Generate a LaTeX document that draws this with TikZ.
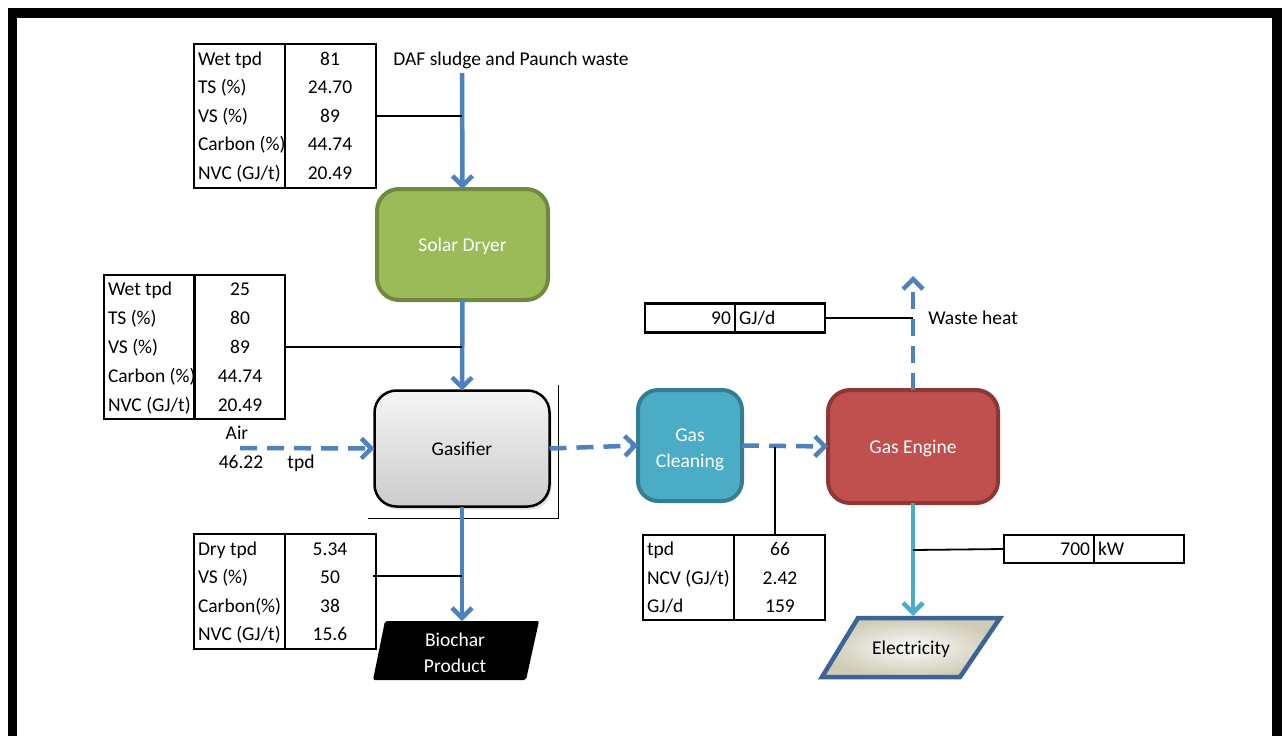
\documentclass[tikz,border=0pt]{standalone}
\usepackage{fontspec}
\setmainfont{Carlito}
\usetikzlibrary{arrows.meta,shadows}
\definecolor{flowblue}{HTML}{4F81BD}
\definecolor{dryfill}{HTML}{9BBB59}
\definecolor{drydraw}{HTML}{71893F}
\definecolor{cleanfill}{HTML}{4BACC6}
\definecolor{cleandraw}{HTML}{357D91}
\definecolor{engfill}{HTML}{C0504D}
\definecolor{engdraw}{HTML}{8C3836}
\definecolor{elecdraw}{HTML}{3C6496}
\definecolor{elecfill}{HTML}{CFCBB6}
\begin{document}
\begin{tikzpicture}[x=1pt,y=-1pt,
  every node/.style={font=\fontsize{19.5}{23}\selectfont, inner sep=0pt, outer sep=0pt,
                     text height=13pt, text depth=0pt},
  multi/.style={text height=, text depth=, align=center},
  proc/.style={rectangle, rounded corners=22pt, line width=4pt, text=white, align=center},
  tbl/.style={draw, line width=2.5pt, rectangle},
  lbl/.style={anchor=west},
  flow/.style={draw=flowblue, line width=4.5pt, -{Straight Barb[length=10pt,width=20pt]}},
  dflow/.style={flow, dash pattern=on 17pt off 10pt},
  conn/.style={draw=black, line width=1.8pt}]
\useasboundingbox (0,0) rectangle (1282,736);
\clip (0,0) rectangle (1282,736);
\fill[white] (0,0) rectangle (1282,736);
% frame
\draw[line width=9.5pt] (12.5,13) rectangle (1277,741);

% ---------- process boxes ----------
\node[proc, fill=dryfill, draw=drydraw, minimum width=171pt, minimum height=111pt] (dryer) at (462.5,244.5) {Solar Dryer};
\node[proc, draw=black, line width=2.5pt, top color=gray!8, bottom color=gray!40, text=black,
      minimum width=175pt, minimum height=116pt,
      drop shadow={opacity=0.25, shadow xshift=2pt, shadow yshift=-3pt}] (gasifier) at (462,448.5) {Gasifier};
\node[proc, fill=cleanfill, draw=cleandraw, minimum width=104pt, minimum height=111pt, rounded corners=20pt] (clean) at (690,445.5) {};
\node[multi, text=white] (cleantext) at (690,449.5) {Gas\\[3pt]Cleaning};
\node[proc, fill=engfill, draw=engdraw, minimum width=170pt, minimum height=113pt] (engine) at (913,446.5) {Gas Engine};

% artefact lines around gasifier
\draw[line width=1pt] (558,385) -- (558,518) -- (368,518);

% biochar parallelogram
\fill[black, rounded corners=2pt] (385,621) -- (539,621) -- (526,680) -- (373,680) -- cycle;
\coordinate (biotop) at (462,621);
\node[multi, text=white] (biochar) at (455,653) {Biochar\\[3pt]Product};

% electricity parallelogram
\shade[inner color=white!92!elecfill, outer color=elecfill] (858,618) -- (1000,618) -- (960,677) -- (822,677) -- cycle;
\draw[elecdraw, line width=4.5pt, line join=miter] (858,618) -- (1000,618) -- (960,677) -- (822,677) -- cycle;
\coordinate (electop) at (913,616);
\node (elec) at (911,648) {Electricity};

% ---------- inputs / labels ----------
\node (daf) at (511,59) {DAF sludge and Paunch waste};
\coordinate (dafstart) at (462,73);
\node (wasteheat) at (973,318) {Waste heat};
\coordinate (heatend) at (913,276);
\node (air) at (237,433) {Air};
\node (airval) at (241,462) {46.22};
\node (airunit) at (301,462) {tpd};
\coordinate (airstart) at (240,448);

% ---------- flows ----------
\draw[flow] (dafstart) -- (dryer.north);
\draw[flow] (dryer.south) -- (gasifier.north);
\draw[dflow] (airstart) -- (gasifier.west);
\draw[dflow] (gasifier.east) -- (clean.west);
\draw[dflow] (clean.east) -- (engine.west);
\draw[dflow] (engine.north) -- (heatend);
\draw[flow] (gasifier.south) -- (biotop);
\draw[flow, draw=cleanfill] (engine.south) -- (electop);

% ---------- table 1 ----------
\node[tbl, minimum width=182pt, minimum height=144pt] (t1) at (285,116) {};
\draw[line width=2.5pt] (t1.north) -- (t1.south);
\begin{scope}
\clip (194,44) rectangle (285,188);
\node[lbl] (t1a) at (198,59) {Wet tpd};
\node[lbl] (t1b) at (198,87) {TS (\%)};
\node[lbl] (t1c) at (198,116) {VS (\%)};
\node[lbl] (t1d) at (198,144) {Carbon (\%)};
\node[lbl] (t1e) at (198,173) {NVC (GJ/t)};
\end{scope}
\node (t1av) at (330,59) {81};
\node (t1bv) at (330,87) {24.70};
\node (t1cv) at (330,116) {89};
\node (t1dv) at (330,144) {44.74};
\node (t1ev) at (330,173) {20.49};
\coordinate (j1) at (462,116);
\draw[conn] (t1.east) -- (j1);

% ---------- table 2 ----------
\node[tbl, minimum width=181pt, minimum height=144pt] (t2) at (194.5,347) {};
\draw[line width=2.5pt] (t2.north) -- (t2.south);
\begin{scope}
\clip (104,275) rectangle (194.5,419);
\node[lbl] (t2a) at (108,289) {Wet tpd};
\node[lbl] (t2b) at (108,318) {TS (\%)};
\node[lbl] (t2c) at (108,347) {VS (\%)};
\node[lbl] (t2d) at (108,376) {Carbon (\%)};
\node[lbl] (t2e) at (108,405) {NVC (GJ/t)};
\end{scope}
\node (t2av) at (240,289) {25};
\node (t2bv) at (240,318) {80};
\node (t2cv) at (240,347) {89};
\node (t2dv) at (240,376) {44.74};
\node (t2ev) at (240,405) {20.49};
\coordinate (j2) at (462,347);
\draw[conn] (t2.east) -- (j2);

% ---------- table 4 (biochar) ----------
\node[tbl, minimum width=182pt, minimum height=115pt] (t4) at (285,591.5) {};
\draw[line width=2.5pt] (t4.north) -- (t4.south);
\node[lbl] (t4a) at (198,549) {Dry tpd};
\node[lbl] (t4b) at (198,577) {VS (\%)};
\node[lbl] (t4c) at (198,606) {Carbon(\%)};
\node[lbl] (t4d) at (198,634) {NVC (GJ/t)};
\node (t4av) at (330,549) {5.34};
\node (t4bv) at (330,577) {50};
\node (t4cv) at (330,606) {38};
\node (t4dv) at (330,634) {15.6};
\coordinate (j4) at (462,576);
\draw[conn] (373,576) -- (j4);

% ---------- table 3 (gas) ----------
\node[tbl, minimum width=182pt, minimum height=85pt] (t3) at (734,577.5) {};
\draw[line width=2.5pt] (t3.north) -- (t3.south);
\node[lbl] (t3a) at (647,549) {tpd};
\node[lbl] (t3b) at (647,578) {NCV (GJ/t)};
\node[lbl] (t3c) at (647,606) {GJ/d};
\node (t3av) at (780,549) {66};
\node (t3bv) at (780,578) {2.42};
\node (t3cv) at (780,606) {159};
\coordinate (j3) at (775,446.5);
\draw[conn] (j3) -- (j3 |- t3.north);

% ---------- waste heat box ----------
\node[tbl, minimum width=180pt, minimum height=29pt] (heatbox) at (735,318) {};
\draw[line width=2.5pt] (heatbox.north) -- (heatbox.south);
\node[anchor=east] (heatval) at (731,318) {90};
\node[anchor=west] (heatunit) at (739,318) {GJ/d};
\coordinate (jh) at (913,318);
\draw[conn] (heatbox.east) -- (jh);

% ---------- power box ----------
\node[tbl, minimum width=180pt, minimum height=28pt] (powbox) at (1094,549) {};
\draw[line width=2.5pt] (powbox.north) -- (powbox.south);
\node[anchor=east] (powval) at (1090,549) {700};
\node[anchor=west] (powunit) at (1098,549) {kW};
\coordinate (jp) at (913,550);
\draw[conn] (jp) -- (powbox.west);
\end{tikzpicture}
\end{document}
